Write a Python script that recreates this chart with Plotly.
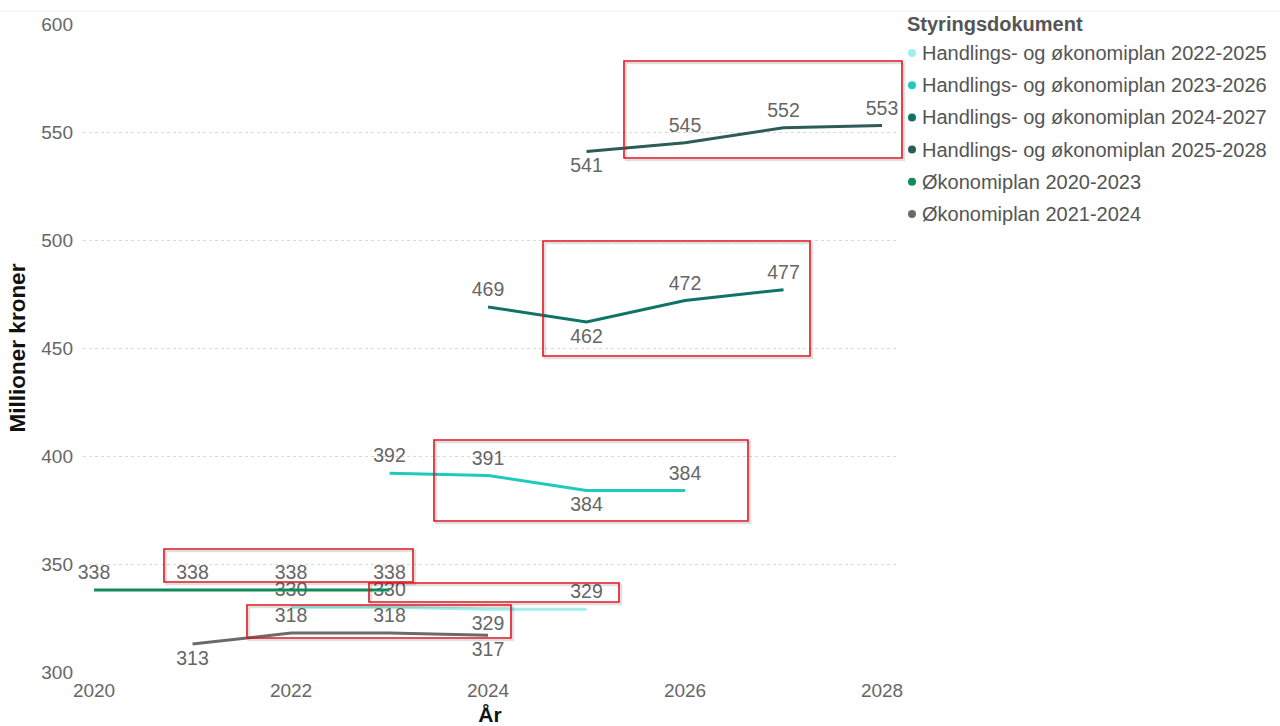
import plotly.graph_objects as go

# Budget figures (millioner kroner) per planning document
years_2020_2023 = [2020, 2021, 2022, 2023]
okonomiplan_2020_2023 = [338, 338, 338, 338]

years_2021_2024 = [2021, 2022, 2023, 2024]
okonomiplan_2021_2024 = [313, 318, 318, 317]

years_2022_2025 = [2022, 2023, 2024, 2025]
hoplan_2022_2025 = [330, 330, 329, 329]

years_2023_2026 = [2023, 2024, 2025, 2026]
hoplan_2023_2026 = [392, 391, 384, 384]

years_2024_2027 = [2024, 2025, 2026, 2027]
hoplan_2024_2027 = [469, 462, 472, 477]

years_2025_2028 = [2025, 2026, 2027, 2028]
hoplan_2025_2028 = [541, 545, 552, 553]

legend_names = [
    "Handlings- og økonomiplan 2022-2025",
    "Handlings- og økonomiplan 2023-2026",
    "Handlings- og økonomiplan 2024-2027",
    "Handlings- og økonomiplan 2025-2028",
    "Økonomiplan 2020-2023",
    "Økonomiplan 2021-2024",
]

x_ticks = [2020, 2022, 2024, 2026, 2028]
y_ticks = [300, 350, 400, 450, 500, 550, 600]

COLORS = {
    "Handlings- og økonomiplan 2022-2025": "#A0EEE9",
    "Handlings- og økonomiplan 2023-2026": "#1FC9BD",
    "Handlings- og økonomiplan 2024-2027": "#0F7468",
    "Handlings- og økonomiplan 2025-2028": "#2E5B57",
    "Økonomiplan 2020-2023": "#12895A",
    "Økonomiplan 2021-2024": "#6A6A6A",
}

T, B = "top center", "bottom center"
series = [
    ("Handlings- og økonomiplan 2022-2025", years_2022_2025, hoplan_2022_2025, [T, T, B, T]),
    ("Handlings- og økonomiplan 2023-2026", years_2023_2026, hoplan_2023_2026, [T, T, B, T]),
    ("Handlings- og økonomiplan 2024-2027", years_2024_2027, hoplan_2024_2027, [T, B, T, T]),
    ("Handlings- og økonomiplan 2025-2028", years_2025_2028, hoplan_2025_2028, [B, T, T, T]),
    ("Økonomiplan 2020-2023", years_2020_2023, okonomiplan_2020_2023, [T, T, T, T]),
    ("Økonomiplan 2021-2024", years_2021_2024, okonomiplan_2021_2024, [B, T, T, B]),
]

FONT = "Liberation Sans, Arial, sans-serif"
W, H = 1280, 726
PLOT_L, PLOT_R, PLOT_T, PLOT_B = 83, 897, 24, 672
ML, MR, MT, MB = PLOT_L, W - PLOT_R, PLOT_T, H - PLOT_B

fig = go.Figure()
for name, xs, ys, pos in series:
    fig.add_trace(go.Scatter(
        x=xs, y=ys, name=name, mode="lines+markers+text",
        line=dict(color=COLORS[name], width=3),
        marker=dict(size=8, color="rgba(0,0,0,0)"),
        text=[str(v) for v in ys], textposition=pos,
        textfont=dict(family=FONT, size=19.5, color="#666666"),
        cliponaxis=False,
        showlegend=False, hoverinfo="x+y+name",
    ))


def px_x(px):
    return (px - PLOT_L) / (PLOT_R - PLOT_L)


def px_y(py):
    return (PLOT_B - py) / (PLOT_B - PLOT_T)


shapes = []
annotations = []

# Custom legend: title plus dot + label entries
annotations.append(dict(
    xref="paper", yref="paper", x=px_x(905), y=px_y(24),
    xanchor="left", yanchor="middle", showarrow=False,
    text="<b>Styringsdokument</b>",
    font=dict(family=FONT, size=20, color="#555555"),
))
for i, name in enumerate(legend_names):
    cy = 53 + i * 32.2
    shapes.append(dict(
        type="circle", xref="paper", yref="paper",
        x0=px_x(908), x1=px_x(916), y0=px_y(cy + 4), y1=px_y(cy - 4),
        fillcolor=COLORS[name], line=dict(width=0),
    ))
    annotations.append(dict(
        xref="paper", yref="paper", x=px_x(920), y=px_y(cy),
        xanchor="left", yanchor="middle", showarrow=False, text=name,
        font=dict(family=FONT, size=20, color="#555555"),
    ))

# Highlight boxes, given as screen rectangles (left, top, right, bottom)
boxes = [
    (624, 61, 902, 158),
    (543, 241, 810, 356),
    (434, 440, 748, 521),
    (164, 549, 413, 582),
    (369, 583, 619, 602),
    (247, 605, 511, 638),
]
for l, t, r, b in boxes:
    shapes.append(dict(
        type="rect", xref="paper", yref="paper",
        x0=px_x(l + 2), x1=px_x(r + 2), y0=px_y(b + 2), y1=px_y(t + 2),
        line=dict(color="rgba(0,0,0,0.12)", width=2.5), layer="above",
    ))
    shapes.append(dict(
        type="rect", xref="paper", yref="paper",
        x0=px_x(l), x1=px_x(r), y0=px_y(b), y1=px_y(t),
        line=dict(color="#E0141E", width=1.6), layer="above",
    ))

# Faint header rule
shapes.append(dict(
    type="line", xref="paper", yref="paper",
    x0=px_x(0), x1=px_x(W), y0=px_y(11), y1=px_y(11),
    line=dict(color="#F0F0F0", width=1),
))

fig.update_layout(
    width=W, height=H,
    margin=dict(l=ML, r=MR, t=MT, b=MB, pad=0, autoexpand=False),
    paper_bgcolor="white", plot_bgcolor="white",
    font=dict(family=FONT, color="#666666"),
    shapes=shapes, annotations=annotations,
    showlegend=False,
    xaxis=dict(
        range=[2019.888, 2028.152], tickvals=x_ticks,
        showgrid=False, zeroline=False, showline=False, automargin=False,
        tickfont=dict(family=FONT, size=19, color="#666666"),
        ticklabelstandoff=5,
        title=dict(text="<b>År</b>", standoff=9,
                   font=dict(family=FONT, size=21, color="#111111")),
    ),
    yaxis=dict(
        range=[300, 600], tickvals=y_ticks,
        showgrid=True, gridcolor="#D9D9D9", griddash="dot", gridwidth=1,
        zeroline=False, showline=False, automargin=False,
        tickfont=dict(family=FONT, size=19, color="#666666"),
        ticklabelstandoff=9,
        title=dict(text="<b>Millioner kroner</b>", standoff=9,
                   font=dict(family=FONT, size=22.5, color="#111111")),
    ),
)

fig.write_html("out.html")
